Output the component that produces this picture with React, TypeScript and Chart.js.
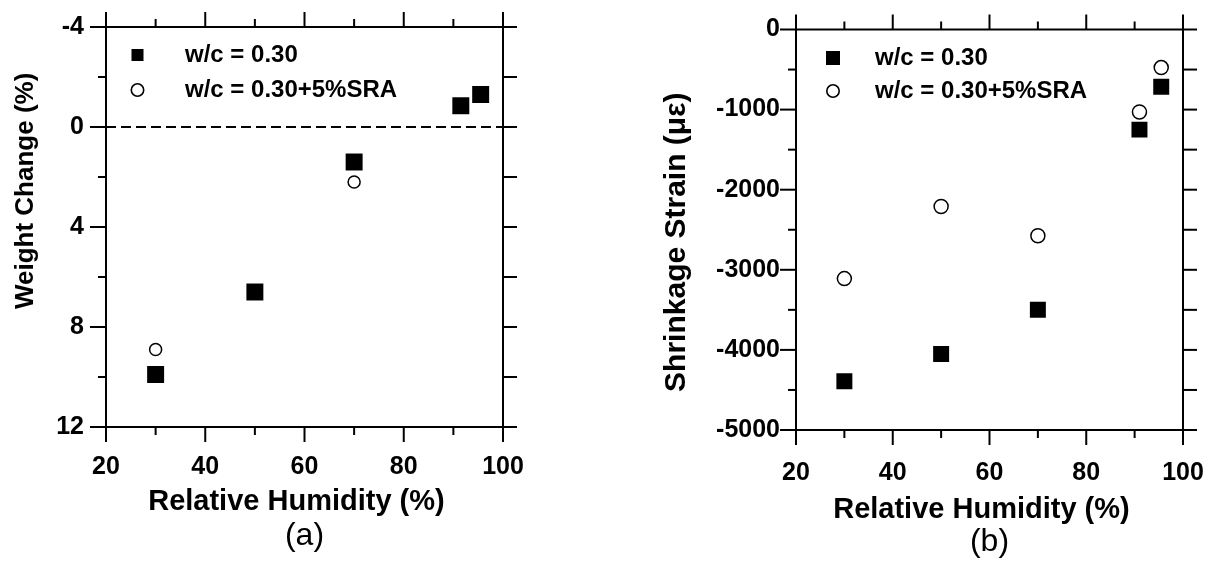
import React, { useEffect, useRef } from 'react';
import { Chart, registerables } from 'chart.js';

Chart.register(...registerables);

const FONT = "'Liberation Sans', Arial, Helvetica, sans-serif";

// ---- data: panel (a) weight change ----
const rhA = [30, 50, 70, 91.5, 95.5];
const weightPlain = [9.9, 6.6, 1.4, -0.85, -1.3];
const weightSRA = [8.9, 6.6, 2.2, -0.85, -1.3];
const zeroLineX = [20, 100];
const zeroLineY = [0, 0];
const xTickValues = [20, 40, 60, 80, 100];
const yTickValuesA = [-4, 0, 4, 8, 12];

// ---- data: panel (b) shrinkage strain ----
const rhB = [30, 50, 70, 91, 95.5];
const strainPlain = [-4390, -4050, -3500, -1250, -715];
const strainSRA = [-3110, -2210, -2575, -1030, -475];
const yTickValuesB = [0, -1000, -2000, -3000, -4000, -5000];

const seriesNames = ['w/c = 0.30', 'w/c = 0.30+5%SRA'];

const toPoints = (xs: number[], ys: number[]) => xs.map((x, i) => ({ x, y: ys[i] }));

const CLEAR = 'rgba(0,0,0,0)';

function markerImage(kind: 'square' | 'circle', w: number, cx: number, size: number) {
  const c = document.createElement('canvas');
  c.width = w;
  c.height = 24;
  const g = c.getContext('2d')!;
  g.fillStyle = '#000';
  g.strokeStyle = '#000';
  if (kind === 'square') {
    g.fillRect(cx - size / 2, 12 - size / 2, size, size);
  } else {
    g.fillStyle = '#fff';
    g.lineWidth = 1.6;
    g.beginPath();
    g.arc(cx, 12, size / 2 - 0.8, 0, Math.PI * 2);
    g.fill();
    g.stroke();
  }
  return c;
}

function framePlugin(majorLen: number, minorLen: number, leftMajor: number, leftMinor: number, rightLen: number) {
  return {
    id: 'frameTicks',
    afterDatasetsDraw(chart: any) {
      const { ctx, chartArea } = chart;
      const { left, right, top, bottom } = chartArea;
      const xs = chart.scales.x;
      const ys = chart.scales.y;
      ctx.save();
      ctx.strokeStyle = '#000';
      ctx.lineWidth = 2;
      ctx.strokeRect(left, top, right - left, bottom - top);
      const line = (x1: number, y1: number, x2: number, y2: number) => {
        ctx.beginPath();
        ctx.moveTo(x1, y1);
        ctx.lineTo(x2, y2);
        ctx.stroke();
      };
      const withMinor = (vals: number[]) => {
        const out: { v: number; major: boolean }[] = [];
        vals.forEach((v, i) => {
          out.push({ v, major: true });
          if (i < vals.length - 1) out.push({ v: (v + vals[i + 1]) / 2, major: false });
        });
        return out;
      };
      const xv = withMinor(xs.ticks.map((t: any) => t.value));
      xv.forEach(({ v, major }) => {
        const px = xs.getPixelForValue(v);
        const len = major ? majorLen : minorLen;
        line(px, bottom, px, bottom + len);
        line(px, top, px, top - len);
      });
      const yv = withMinor(ys.ticks.map((t: any) => t.value));
      yv.forEach(({ v, major }) => {
        const py = ys.getPixelForValue(v);
        line(left, py, left - (major ? leftMajor : leftMinor), py);
        line(right, py, right + rightLen, py);
      });
      ctx.restore();
    },
  };
}

function hiddenGrid(len: number) {
  return {
    display: true,
    drawOnChartArea: false,
    drawTicks: true,
    tickLength: len,
    color: CLEAR,
    tickColor: CLEAR,
  };
}

function buildConfig(p: any) {
  const tickFont = { family: FONT, size: 25, weight: 'bold' as const };
  return {
    type: 'scatter',
    data: { datasets: p.datasets },
    options: {
      responsive: false,
      animation: false,
      devicePixelRatio: 1,
      layout: { padding: { left: 0, right: p.padRight, top: p.padTop, bottom: p.padBottom } },
      scales: {
        x: {
          type: 'linear',
          min: 20,
          max: 100,
          afterBuildTicks: (s: any) => {
            s.ticks = xTickValues.map((v) => ({ value: v }));
          },
          ticks: { padding: 2, font: tickFont, color: '#000', maxRotation: 0, autoSkip: false },
          grid: hiddenGrid(p.xLabelPad - 2),
          border: { display: false },
          title: {
            display: true,
            text: 'Relative Humidity (%)  ',
            color: '#000',
            font: { family: FONT, size: 29, weight: 'bold', lineHeight: 1 },
            padding: { top: 0, bottom: p.xTitlePadBottom },
          },
          afterFit: (s: any) => {
            s.height = p.xAxisHeight;
          },
        },
        y: {
          type: 'linear',
          min: p.yMin,
          max: p.yMax,
          reverse: p.reverse,
          afterBuildTicks: (s: any) => {
            s.ticks = p.yTicks.map((v: number) => ({ value: v }));
          },
          ticks: { padding: 2, font: tickFont, color: '#000', callback: (v: any) => String(v) },
          grid: hiddenGrid(p.yLabelPad - 2),
          border: { display: false },
          title: {
            display: true,
            text: p.yTitle,
            color: '#000',
            font: { family: FONT, size: p.yTitleSize, weight: 'bold', lineHeight: 1 },
            padding: { top: p.yTitlePadTop, bottom: 0 },
          },
          afterFit: (s: any) => {
            s.width = p.yAxisWidth;
          },
        },
      },
      plugins: {
        tooltip: { enabled: false },
        title: {
          display: true,
          position: 'bottom',
          text: p.panel,
          fullSize: false,
          color: '#000',
          font: { family: FONT, size: 32, weight: 'normal', lineHeight: 1.2 },
          padding: { top: 0, bottom: 0 },
        },
        legend: {
          display: true,
          position: 'chartArea',
          align: 'start',
          title: { display: true, text: '', padding: { top: p.legendTop, bottom: 0 }, font: { size: 1, lineHeight: 1 } },
          labels: {
            usePointStyle: true,
            pointStyleWidth: p.legendBoxWidth,
            boxHeight: 24,
            padding: p.legendPad,
            color: '#000',
            font: { family: FONT, size: 24, weight: 'bold' },
            generateLabels: () => [
              {
                text: seriesNames[0],
                pointStyle: markerImage('square', p.legendBoxWidth, p.markerCx, p.legendSquare),
                fillStyle: '#000',
                strokeStyle: '#000',
                lineWidth: 0,
                hidden: false,
                datasetIndex: 0,
                fontColor: '#000',
              },
              {
                text: seriesNames[1],
                pointStyle: markerImage('circle', p.legendBoxWidth, p.markerCx, p.legendCircle),
                fillStyle: '#fff',
                strokeStyle: '#000',
                lineWidth: 1.5,
                hidden: false,
                datasetIndex: 1,
                fontColor: '#000',
              },
            ],
          },
        },
      },
    },
    plugins: [framePlugin(15, 8, 16, 8, 14)],
  };
}

export default function App() {
  const leftRef = useRef<HTMLCanvasElement>(null);
  const rightRef = useRef<HTMLCanvasElement>(null);

  useEffect(() => {
    const left = new Chart(
      leftRef.current!,
      buildConfig({
        datasets: [
          {
            label: seriesNames[0],
            data: toPoints(rhA, weightPlain),
            pointStyle: 'rect',
            pointRadius: 12,
            backgroundColor: '#000',
            borderColor: '#000',
            borderWidth: 0,
          },
          {
            label: seriesNames[1],
            data: toPoints(rhA, weightSRA),
            pointStyle: 'circle',
            pointRadius: 6,
            backgroundColor: '#fff',
            borderColor: '#000',
            borderWidth: 1.5,
          },
          {
            label: 'zero',
            data: toPoints(zeroLineX, zeroLineY),
            showLine: true,
            pointRadius: 0,
            borderColor: '#000',
            borderWidth: 2,
            borderDash: [10, 5],
          },
        ],
        padRight: 57,
        padTop: 27,
        padBottom: 5.8,
        xLabelPad: 25.6,
        xTitlePadBottom: 0,
        xAxisHeight: 89.8,
        yMin: -4,
        yMax: 12,
        reverse: true,
        yTicks: yTickValuesA,
        yLabelPad: 22,
        yTitle: '          Weight Change (%)',
        yTitleSize: 26,
        yTitlePadTop: 13,
        yAxisWidth: 106,
        panel: '(a)',
        legendTop: 31,
        legendPad: 11,
        legendBoxWidth: 56,
        markerCx: 20.5,
        legendSquare: 12,
        legendCircle: 14,
      }) as any
    );
    const right = new Chart(
      rightRef.current!,
      buildConfig({
        datasets: [
          {
            label: seriesNames[0],
            data: toPoints(rhB, strainPlain),
            pointStyle: 'rect',
            pointRadius: 11.3,
            backgroundColor: '#000',
            borderColor: '#000',
            borderWidth: 0,
          },
          {
            label: seriesNames[1],
            data: toPoints(rhB, strainSRA),
            pointStyle: 'circle',
            pointRadius: 7,
            backgroundColor: '#fff',
            borderColor: '#000',
            borderWidth: 1.5,
          },
        ],
        padRight: 44,
        padTop: 29.5,
        padBottom: 0,
        xLabelPad: 28.6,
        xTitlePadBottom: -2,
        xAxisHeight: 92.6,
        yMin: -5000,
        yMax: 0,
        reverse: false,
        yTicks: yTickValuesB,
        yLabelPad: 16,
        yTitle: 'Shrinkage Strain (με)   ',
        yTitleSize: 30,
        yTitlePadTop: 42,
        yAxisWidth: 176,
        panel: '(b)',
        legendTop: 36,
        legendPad: 9,
        legendBoxWidth: 58,
        markerCx: 28,
        legendSquare: 14,
        legendCircle: 14,
      }) as any
    );
    return () => {
      left.destroy();
      right.destroy();
    };
  }, []);

  return (
    <div style={{ position: 'absolute', left: 0, top: 0, width: 1227, height: 561, background: '#fff' }}>
      <canvas
        ref={leftRef}
        width={560}
        height={561}
        style={{ position: 'absolute', left: 0, top: 0, width: 560, height: 561 }}
      />
      <canvas
        ref={rightRef}
        width={607}
        height={561}
        style={{ position: 'absolute', left: 620, top: 0, width: 607, height: 561 }}
      />
    </div>
  );
}
